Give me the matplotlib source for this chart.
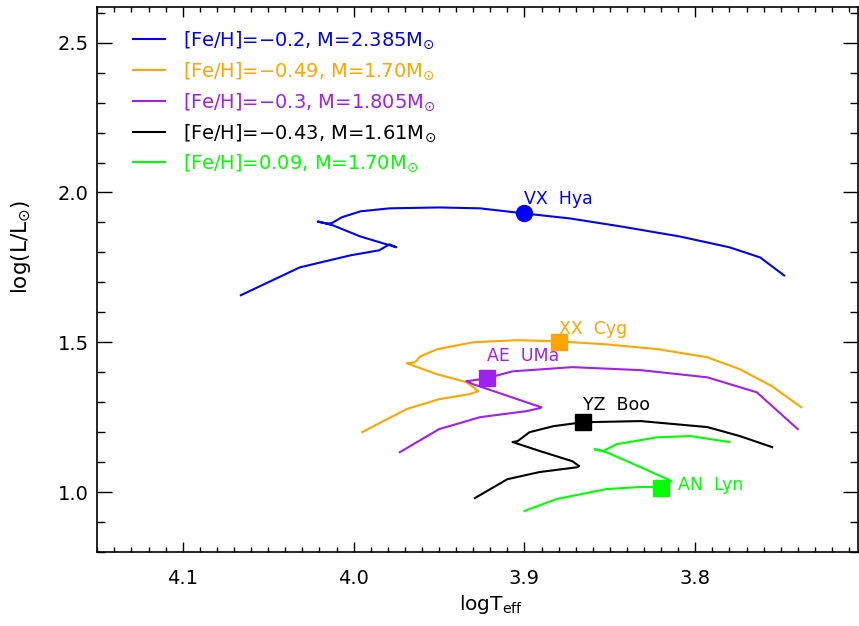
import matplotlib
matplotlib.use('Agg')
import matplotlib.pyplot as plt
from matplotlib.ticker import MultipleLocator

plt.rcParams['font.family'] = 'DejaVu Sans'
plt.rcParams['mathtext.fontset'] = 'dejavusans'

# evolutionary tracks (logTeff, logL)
blue_T = [4.066, 4.0315, 4.002, 3.985, 3.979, 3.975, 3.996, 4.012, 4.021, 4.016, 4.013, 4.007,
          3.996, 3.979, 3.950, 3.926, 3.900, 3.873, 3.844, 3.809, 3.780, 3.762, 3.748]
blue_L = [1.657, 1.75, 1.79, 1.807, 1.827, 1.817, 1.853, 1.89, 1.903, 1.897, 1.897, 1.917,
          1.937, 1.947, 1.95, 1.947, 1.93, 1.913, 1.887, 1.853, 1.817, 1.783, 1.723]

orange_T = [3.995, 3.969, 3.950, 3.932, 3.927, 3.934, 3.951, 3.969, 3.964, 3.961, 3.951, 3.930,
            3.904, 3.880, 3.852, 3.822, 3.793, 3.774, 3.755, 3.738]
orange_L = [1.20, 1.277, 1.31, 1.327, 1.337, 1.367, 1.393, 1.43, 1.433, 1.453, 1.477, 1.50,
            1.507, 1.503, 1.493, 1.477, 1.45, 1.41, 1.353, 1.283]

purple_T = [3.973, 3.950, 3.926, 3.899, 3.891, 3.890, 3.899, 3.916, 3.930, 3.934, 3.930, 3.922,
            3.907, 3.872, 3.832, 3.793, 3.764, 3.740]
purple_L = [1.133, 1.21, 1.25, 1.27, 1.28, 1.283, 1.30, 1.333, 1.36, 1.37, 1.373, 1.38,
            1.403, 1.417, 1.407, 1.383, 1.333, 1.21]

black_T = [3.929, 3.910, 3.891, 3.869, 3.868, 3.872, 3.891, 3.907, 3.904, 3.897, 3.883, 3.866,
           3.832, 3.793, 3.774, 3.755]
black_L = [0.98, 1.043, 1.067, 1.083, 1.087, 1.103, 1.137, 1.167, 1.17, 1.20, 1.22, 1.233,
           1.237, 1.217, 1.187, 1.15]

green_T = [3.900, 3.881, 3.852, 3.832, 3.820, 3.814, 3.832, 3.852, 3.859, 3.854, 3.846, 3.822,
           3.803, 3.780]
green_L = [0.937, 0.977, 1.01, 1.017, 1.017, 1.037, 1.083, 1.133, 1.143, 1.137, 1.16, 1.183,
           1.187, 1.167]

labels = ['[Fe/H]=$-$0.2, M=2.385M$_{\\odot}$',
          '[Fe/H]=$-$0.49, M=1.70M$_{\\odot}$',
          '[Fe/H]=$-$0.3, M=1.805M$_{\\odot}$',
          '[Fe/H]=$-$0.43, M=1.61M$_{\\odot}$',
          '[Fe/H]=0.09, M=1.70M$_{\\odot}$']
colors = ['#0000ff', '#ffa500', '#a020f0', '#000000', '#00ff00']

# stars
star_names = ['VX  Hya', 'XX  Cyg', 'AE  UMa', 'YZ  Boo', 'AN  Lyn']
star_T = [3.900, 3.880, 3.922, 3.866, 3.820]
star_L = [1.93, 1.50, 1.38, 1.233, 1.013]
star_mk = ['o', 's', 's', 's', 's']
lab_T = [3.900, 3.880, 3.922, 3.866, 3.810]
lab_L = [1.977, 1.543, 1.453, 1.29, 1.023]

fig = plt.figure(figsize=(8.59, 6.26), dpi=100)
ax = fig.add_axes([0.1133, 0.1182, 0.8855, 0.8711])

tracks = [(blue_T, blue_L), (orange_T, orange_L), (purple_T, purple_L),
          (black_T, black_L), (green_T, green_L)]
for (t, l), c, lab in zip(tracks, colors, labels):
    ax.plot(t, l, color=c, lw=1.5, label=lab)

for i in range(5):
    ax.plot(star_T[i], star_L[i], marker=star_mk[i], color=colors[i], ms=11.5, ls='none')
    ax.text(lab_T[i], lab_L[i], star_names[i], color=colors[i], fontsize=12.5,
            ha='left', va='center')

ax.set_xlim(4.15, 3.7048)
ax.set_ylim(0.8, 2.62)
ax.xaxis.set_major_locator(MultipleLocator(0.1))
ax.xaxis.set_minor_locator(MultipleLocator(0.01))
ax.yaxis.set_major_locator(MultipleLocator(0.5))
ax.yaxis.set_minor_locator(MultipleLocator(0.1))
ax.xaxis.set_major_formatter(plt.FormatStrFormatter('%.1f'))
ax.yaxis.set_major_formatter(plt.FormatStrFormatter('%.1f'))
ax.tick_params(which='both', direction='in', top=True, right=True, width=1)
ax.tick_params(axis='x', which='major', length=7.2, pad=12, labelsize=14)
ax.tick_params(axis='x', which='minor', length=3.6)
ax.tick_params(axis='y', which='major', length=10.8, pad=6, labelsize=14)
ax.tick_params(axis='y', which='minor', length=5.5)
for s in ax.spines.values():
    s.set_linewidth(1.2)

ax.set_xlabel('logT$_{\\rm eff}$', fontsize=14.5)
ax.set_ylabel('log(L/L$_{\\odot}$)', fontsize=15.5)
ax.xaxis.set_label_coords(0.518, -0.075)
ax.yaxis.set_label_coords(-0.085, 0.56)

ax.legend(loc='upper left', bbox_to_anchor=(0.047, 0.958), frameon=False, fontsize=14,
          handlelength=1.65, handletextpad=0.93, labelspacing=0.47, labelcolor='linecolor',
          borderaxespad=0, borderpad=0)

plt.savefig('out.png', dpi=100)
